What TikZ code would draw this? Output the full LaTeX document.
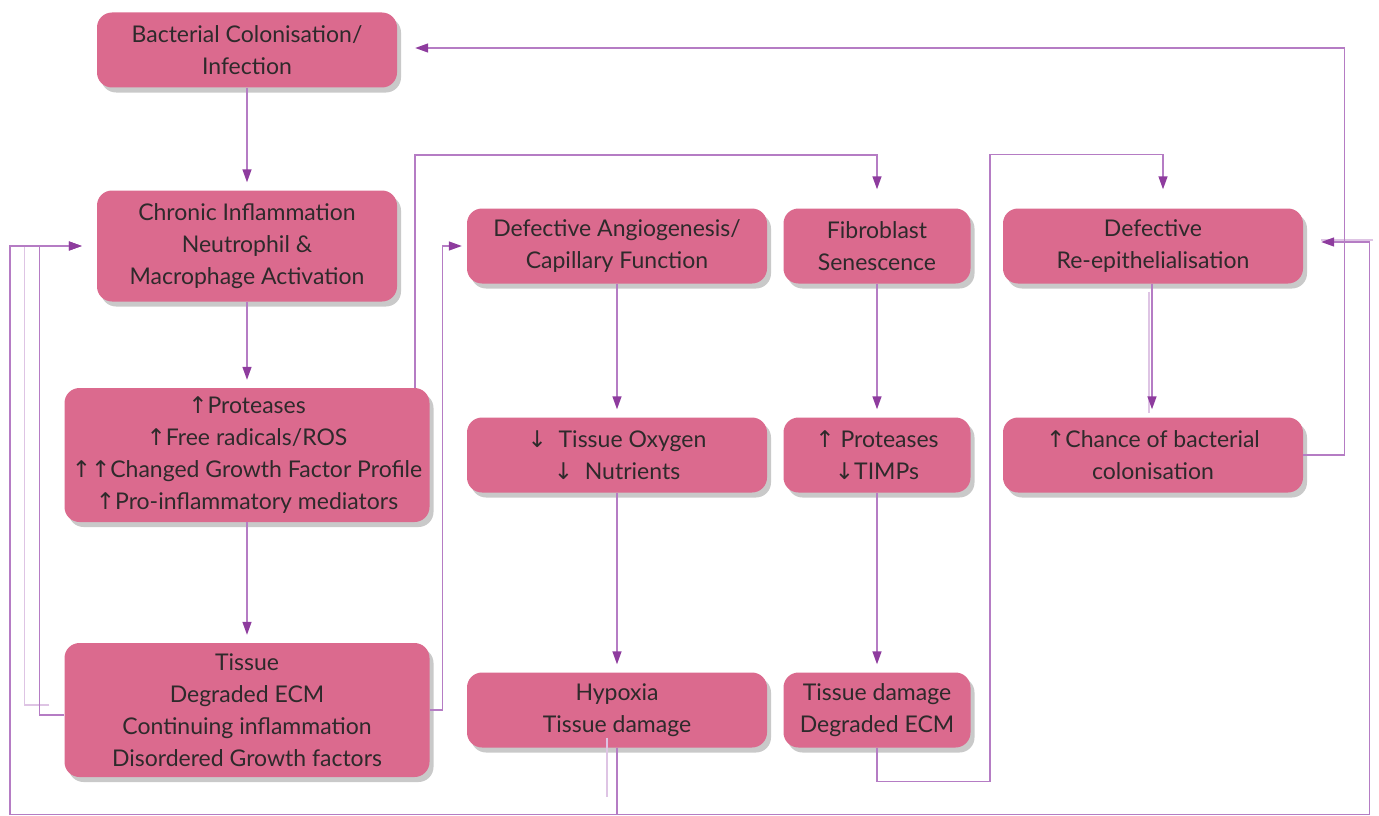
\documentclass[tikz,border=0pt]{standalone}
\usepackage{fontspec}
\setmainfont{Lato}
\newfontfamily\arrowfont{DejaVu Sans}
\usetikzlibrary{arrows.meta,shadows,calc}
\definecolor{boxpink}{HTML}{DB6A8E}
\definecolor{linepurple}{HTML}{B57CC4}
\definecolor{tippurple}{HTML}{8E3C9E}
\definecolor{txtgray}{HTML}{2E2A2B}
\newcommand{\uparr}{{\arrowfont\char"2191}}
\newcommand{\dnarr}{{\arrowfont\char"2193}}
\tikzset{
  box/.style={rectangle,rounded corners=15pt,fill=boxpink,text=txtgray,align=center,
    inner sep=0pt,font=\fontsize{23}{32}\selectfont,
    drop shadow={shadow xshift=4pt,shadow yshift=-5pt,opacity=0.3,fill=black!70}},
  wide/.style={minimum width=300pt,minimum height=75pt},
  slim/.style={minimum width=187pt,minimum height=75pt},
  big/.style={minimum width=365pt,minimum height=134pt},
  flow/.style={draw=linepurple,line width=1.4pt,-{Triangle[length=13pt,width=9pt,color=tippurple]}},
  ghost/.style={draw=linepurple!45,line width=1.3pt}
}
\begin{document}
\begin{tikzpicture}[x=1pt,y=-1pt]
\useasboundingbox (0,0) rectangle (1379,816);
% left column
\node[box,wide] (bact) at (247,50) {Bacterial Colonisation/\\Infection};
\node[box,minimum width=300pt,minimum height=111pt] (chron) at (247,246) {Chronic Inflammation\\Neutrophil \&\\Macrophage Activation};
\node[box,big] (prot) at (247,455) {\uparr Proteases\\\uparr Free radicals/ROS\\\uparr\uparr Changed Growth Factor Profile\\\uparr Pro-inflammatory mediators};
\node[box,big] (tis) at (247,710) {Tissue\\Degraded ECM\\Continuing inflammation\\Disordered Growth factors};
% middle columns
\node[box,wide] (angio) at (617,246) {Defective Angiogenesis/\\Capillary Function};
\node[box,wide] (oxy) at (617,455) {\dnarr\ \ Tissue Oxygen\\\dnarr\ \ Nutrients};
\node[box,wide] (hyp) at (617,710) {Hypoxia\\Tissue damage};
\node[box,slim] (fib) at (877,246) {Fibroblast\\Senescence};
\node[box,slim] (prot2) at (877,455) {\uparr\ Proteases\\\dnarr TIMPs};
\node[box,slim] (dmg) at (877,710) {Tissue damage\\Degraded ECM};
% right column
\node[box,wide] (reepi) at (1153,246) {Defective\\Re-epithelialisation};
\node[box,wide] (chance) at (1153,455) {\uparr Chance of bacterial\\colonisation};

% straight arrows
\draw[flow,shorten >=8pt] (bact) -- (chron);
\draw[flow,shorten >=8pt] (chron) -- (prot);
\draw[flow,shorten >=8pt] (prot) -- (tis);
\draw[flow,shorten >=8pt] (angio) -- (oxy);
\draw[flow,shorten >=8pt] (oxy) -- (hyp);
\draw[flow,shorten >=8pt] (fib) -- (prot2);
\draw[flow,shorten >=8pt] (prot2) -- (dmg);
\draw[ghost] ([xshift=-4pt,yshift=-8pt]reepi.south) -- ([xshift=-4pt,yshift=4pt]chance.north);
\draw[flow,shorten >=8pt] ([xshift=-1pt]reepi.south) -- ([xshift=-1pt]chance.north);

% loops
\draw[flow,shorten >=19pt] ([xshift=168pt]prot.north) -- ++(0,-233) -| (fib);
\draw[flow,shorten >=5pt] (tis.east) -- ++(13,0) |- (angio.west);
\draw[ghost] ([xshift=-15pt,yshift=5pt]tis.west) -- ++(-25,0) |- ([xshift=-30pt]chron.west);
\draw[flow,shorten >=15pt] ([yshift=-5pt]tis.west) -- ++(-25,0) |- (chron.west);
\draw[ghost] ([xshift=-10pt,yshift=10pt]hyp.south) -- ++(0,59);
\draw[flow,shorten >=15pt] (hyp.south) -- ++(0,67) -| ([xshift=-87pt]chron.west) -- (chron.west);
\draw[ghost] ([xshift=70pt,yshift=6pt]reepi.east) -- ([xshift=18pt,yshift=6pt]reepi.east);
\draw[flow,shorten >=18pt] (hyp.south) -- ++(0,67) -| ([xshift=66pt,yshift=4pt]reepi.east) -- ([yshift=4pt]reepi.east);
\draw[flow,shorten >=19pt] (dmg.south) -- ++(0,34) -- ++(113,0) |- ([xshift=10pt,yshift=54pt]reepi.north) -- ([xshift=10pt]reepi.north);
\draw[flow,shorten >=18pt] (chance.east) -- ++(41,0) |- ([yshift=2pt]bact.east);
\end{tikzpicture}
\end{document}
